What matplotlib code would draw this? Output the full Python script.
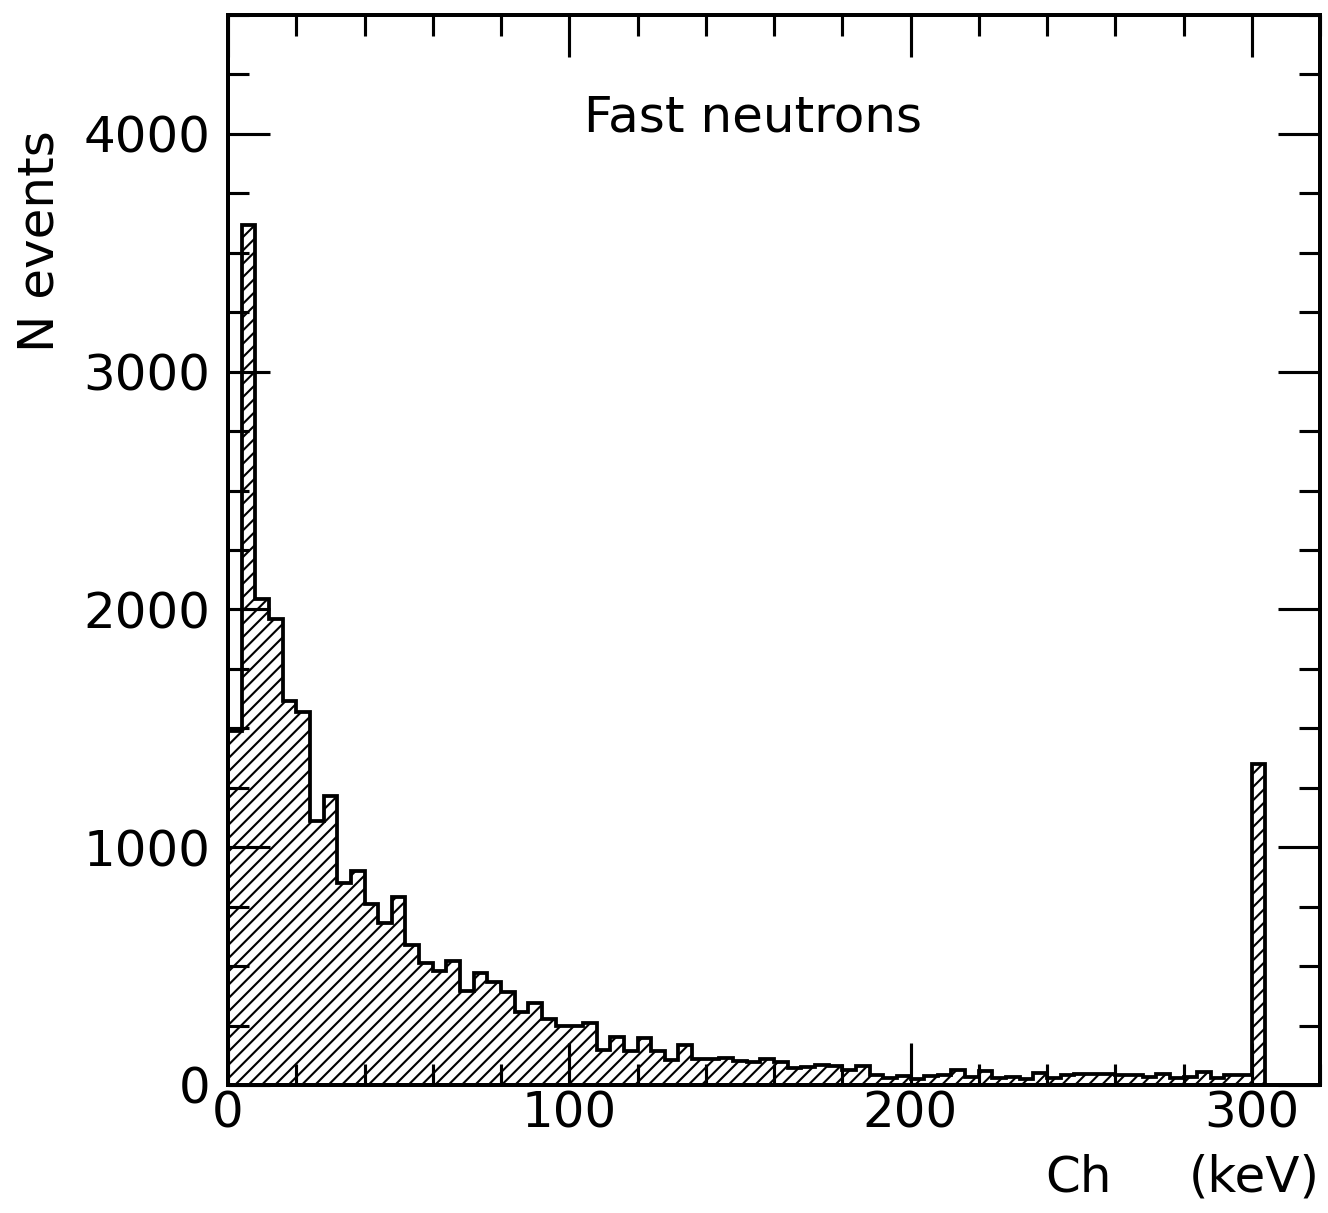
import numpy as np
import matplotlib
matplotlib.use("Agg")
import matplotlib.pyplot as plt

# Histogram: 4 keV bins from 0 to 304 keV (last bin = overflow at 300)
bin_edges = np.arange(0, 308, 4)
counts = [1490, 3615, 2045, 1960, 1615, 1570, 1110, 1215, 850, 900,
          760, 680, 790, 590, 515, 478, 520, 395, 470, 435,
          392, 305, 345, 278, 250, 250, 262, 148, 200, 145,
          196, 143, 105, 168, 110, 108, 112, 100, 98, 108,
          95, 72, 76, 84, 80, 62, 80, 42, 30, 38,
          25, 38, 40, 62, 35, 60, 30, 35, 25, 50,
          30, 40, 45, 48, 45, 42, 40, 35, 45, 30,
          35, 55, 30, 40, 42, 1350]

x_major = [0, 100, 200, 300]
y_major = [0, 1000, 2000, 3000, 4000]
title = "Fast neutrons"
xlabel_left = "Ch"
xlabel_right = "(keV)"
ylabel = "N events"

DPI = 80
W, H = 1328, 1213
plt.rcParams['hatch.linewidth'] = 1.9
plt.rcParams['font.family'] = ['DejaVu Sans']

fig = plt.figure(figsize=(W / DPI, H / DPI), dpi=DPI)
ax = fig.add_axes([228 / W, 1 - 1085 / H, (1320 - 228) / W, (1085 - 15) / H])

ax.stairs(counts, bin_edges, fill=True, facecolor='none', edgecolor='black',
          hatch='//', linewidth=0)
ax.stairs(counts, bin_edges, fill=False, baseline=0, color='black', linewidth=3.4)

ax.set_xlim(0, 320)
ax.set_ylim(0, 4500)

ax.set_xticks(x_major)
ax.set_xticks(np.arange(0, 321, 20), minor=True)
ax.set_yticks(y_major)
ax.set_yticks(np.arange(0, 4501, 250), minor=True)

fs = 45
ax.tick_params(which='both', direction='in', top=True, right=True, width=2.8,
               labelsize=fs, color='black')
ax.tick_params(which='major', length=38)
ax.tick_params(which='minor', length=19)
ax.tick_params(axis='x', which='major', pad=4)
ax.tick_params(axis='y', which='major', pad=16)
for s in ax.spines.values():
    s.set_linewidth(3.6)

fig.text(753 / W, 1 - 118 / H, title, fontsize=fs, ha='center', va='center')
fig.text(40 / W, 1 - 130 / H, ylabel, fontsize=fs, rotation=90,
         ha='center', va='top')
fig.text(1045 / W, 1 - 1178 / H, xlabel_left, fontsize=fs, ha='left', va='center')
fig.text(1320 / W, 1 - 1178 / H, xlabel_right, fontsize=fs, ha='right', va='center')

fig.savefig("out.png", dpi=DPI)
